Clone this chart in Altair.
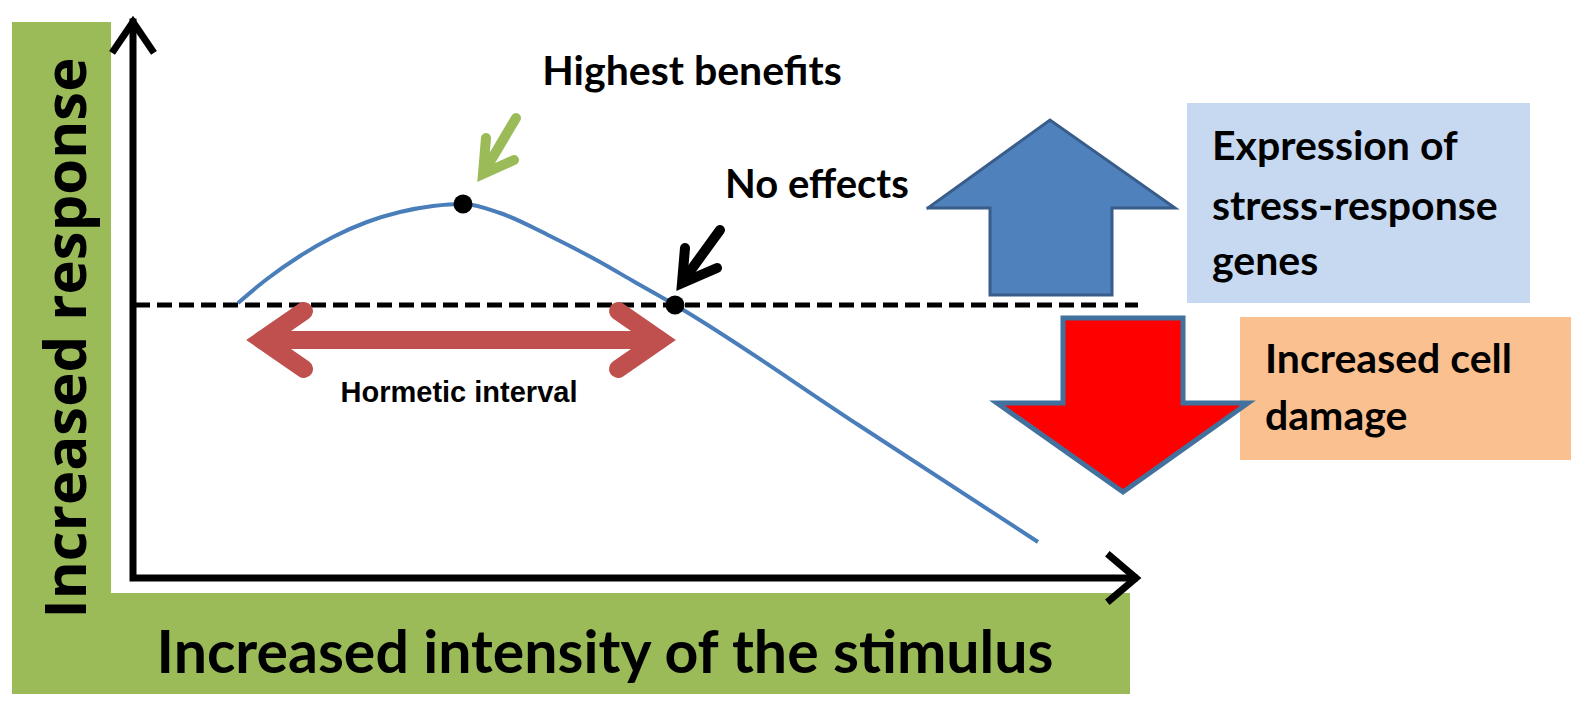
import altair as alt
import pandas as pd

# ---------------- data (diagram coordinates) ----------------
# coloured panels
panel_x1 = [12, 12, 1187, 1240]
panel_x2 = [111, 1130, 1530, 1579]
panel_y1 = [22, 593, 103, 317]
panel_y2 = [702, 702, 303, 460]
panel_col = ["#9bbb59", "#9bbb59", "#c6d9f1", "#fac090"]

# axes with arrow heads
axis_seg = ["axes", "axes", "axes", "yhead", "yhead", "yhead", "xhead", "xhead", "xhead"]
axis_x = [133, 133, 1134, 114, 133, 152, 1110, 1136, 1110]
axis_y = [22, 578, 578, 50, 22, 50, 556, 578, 600]

# dashed "no effect" level
level_x = [135, 1138]
level_y = [305, 305]

# dose-response curve
curve_x = [238, 267, 300, 333, 367, 400, 433, 463, 500, 550, 600, 633, 675, 860, 1038]
curve_y = [303, 279, 256, 237, 222, 212, 206, 204, 213, 236, 262, 281, 305, 426, 542]

# key points
dot_x = [463, 675]
dot_y = [204, 305]

# hormetic interval double arrow
red_seg = ["shaft", "shaft", "left", "left", "left", "right", "right", "right"]
red_x = [262, 660, 304, 262, 304, 618, 660, 618]
red_y = [340, 340, 311, 340, 369, 311, 340, 369]

# pointer arrows
green_seg = ["shaft", "shaft", "head", "head", "head"]
green_x = [516, 484, 486, 483, 514]
green_y = [118, 172, 138, 174, 160]
black_seg = ["shaft", "shaft", "head", "head", "head"]
black_x = [720, 683, 685, 682, 717]
black_y = [230, 281, 248, 283, 268]

# block arrows: head triangle, shaft box, outline
up_head_x = [928, 1050, 1175]
up_head_top = [208, 120, 208]
up_head_bot = [208, 208, 208]
up_shaft = [990, 1112, 208, 295]          # x1, x2, y1, y2
up_outline_x = [928, 1050, 1175, 1112, 1112, 990, 990, 928]
up_outline_y = [208, 120, 208, 208, 295, 295, 208, 208]

down_head_x = [997, 1123, 1248]
down_head_top = [403, 403, 403]
down_head_bot = [403, 492, 403]
down_shaft = [1063, 1183, 318, 403]
down_outline_x = [1063, 1183, 1183, 1248, 1123, 997, 1063, 1063]
down_outline_y = [318, 318, 403, 403, 492, 403, 403, 318]

# texts
title_txt = ["Highest benefits", "Increased intensity of the stimulus"]
title_x = [692, 605]
title_y = [85, 673]
title_fs = [41, 59]

note_txt = ["No effects", "Expression of", "stress-response", "genes", "Increased cell", "damage"]
note_x = [725, 1212, 1212, 1212, 1265, 1265]
note_y = [198, 160, 220, 275, 373, 430]
note_fs = [40, 41, 41, 41, 41, 41]

interval_txt = ["Hormetic interval"]
interval_x = [459]
interval_y = [402]

ylab_txt = ["Increased response"]
ylab_x = [86]
ylab_y = [338]

# ---------------- chart ----------------
W, H = 1563, 686
xs = alt.Scale(domain=[8, 1571], nice=False, zero=False)
ys = alt.Scale(domain=[8, 694], nice=False, zero=False, reverse=True)


def X(f="x"):
    return alt.X(f"{f}:Q", scale=xs, axis=None)


def Y(f="y"):
    return alt.Y(f"{f}:Q", scale=ys, axis=None)


panels = alt.Chart(pd.DataFrame({"x1": panel_x1, "x2": panel_x2, "y1": panel_y1,
                                 "y2": panel_y2, "c": panel_col})).mark_rect(clip=True).encode(
    x=X("x1"), x2="x2:Q", y=Y("y1"), y2="y2:Q", color=alt.Color("c:N", scale=None))


def polyline(seg, xv, yv, color, width, cap="butt"):
    df = pd.DataFrame({"seg": seg, "x": xv, "y": yv, "i": list(range(len(xv)))})
    return alt.Chart(df).mark_line(color=color, strokeWidth=width, strokeJoin="miter",
                                   strokeCap=cap).encode(
        x=X(), y=Y(), detail="seg:N", order="i:Q")


axes = polyline(axis_seg, axis_x, axis_y, "black", 7, "square")

level = alt.Chart(pd.DataFrame({"x": level_x, "y": level_y})).mark_line(
    color="black", strokeWidth=5, strokeDash=[15, 7]).encode(x=X(), y=Y())

curve = alt.Chart(pd.DataFrame({"x": curve_x, "y": curve_y})).mark_line(
    color="#4a7ebb", strokeWidth=4, interpolate="monotone").encode(x=X(), y=Y())

dots = alt.Chart(pd.DataFrame({"x": dot_x, "y": dot_y})).mark_circle(
    color="black", size=360, opacity=1).encode(x=X(), y=Y())

red = polyline(red_seg, red_x, red_y, "#c0504d", 18, "round")
green = polyline(green_seg, green_x, green_y, "#9bbb59", 10, "round")
blk = polyline(black_seg, black_x, black_y, "black", 10, "round")


def block(hx, ht, hb, shaft, ox, oy, fill, stroke, sw):
    head = alt.Chart(pd.DataFrame({"x": hx, "t": ht, "b": hb})).mark_area(
        color=fill, opacity=1).encode(x=X(), y=Y("t"), y2="b:Q")
    body = alt.Chart(pd.DataFrame({"x1": [shaft[0]], "x2": [shaft[1]],
                                   "y1": [shaft[2]], "y2": [shaft[3]]})).mark_rect(
        color=fill, opacity=1).encode(x=X("x1"), x2="x2:Q", y=Y("y1"), y2="y2:Q")
    edge = polyline(["o"] * len(ox), ox, oy, stroke, sw, "square")
    return [head, body, edge]


up = block(up_head_x, up_head_top, up_head_bot, up_shaft, up_outline_x, up_outline_y,
           "#4f81bd", "#385d8a", 3)
down = block(down_head_x, down_head_top, down_head_bot, down_shaft, down_outline_x,
             down_outline_y, "#ff0000", "#41719c", 5)

titles = alt.Chart(pd.DataFrame({"t": title_txt, "x": title_x, "y": title_y, "fs": title_fs})).mark_text(
    font="Lato", fontWeight="bold", align="center", baseline="alphabetic", color="black").encode(
    x=X(), y=Y(), text="t:N", size=alt.Size("fs:Q", scale=None))

notes = alt.Chart(pd.DataFrame({"t": note_txt, "x": note_x, "y": note_y, "fs": note_fs})).mark_text(
    font="Lato", fontWeight="bold", align="left", baseline="alphabetic", color="black").encode(
    x=X(), y=Y(), text="t:N", size=alt.Size("fs:Q", scale=None))

interval = alt.Chart(pd.DataFrame({"t": interval_txt, "x": interval_x, "y": interval_y})).mark_text(
    font="Liberation Sans", fontWeight="bold", fontSize=29,
    align="center", baseline="alphabetic", color="black").encode(x=X(), y=Y(), text="t:N")

ylab = alt.Chart(pd.DataFrame({"t": ylab_txt, "x": ylab_x, "y": ylab_y})).mark_text(
    font="Open Sans", fontWeight="bold", fontSize=58, angle=270,
    align="center", baseline="alphabetic", color="black").encode(x=X(), y=Y(), text="t:N")

chart = alt.layer(
    panels, level, curve, red, green, blk, axes, dots, *up, *down,
    titles, notes, interval, ylab
).properties(
    width=W, height=H, padding=0, autosize="none", background="white"
).configure_view(strokeWidth=0)

chart.save("out.html", embed_options={"renderer": "svg", "actions": False})
